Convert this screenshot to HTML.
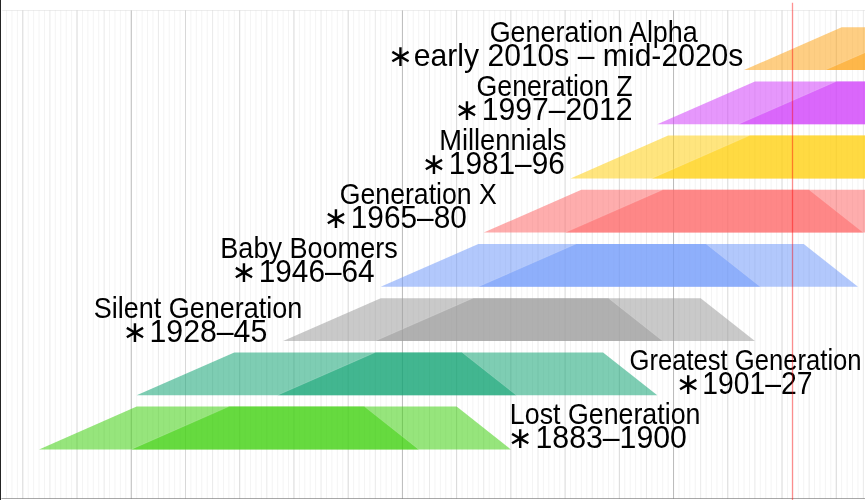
<!DOCTYPE html>
<html lang="en">
<head>
<meta charset="utf-8">
<title>Generation timeline</title>
<style>
html,body{margin:0;padding:0;background:#fff;}
body{width:865px;height:500px;overflow:hidden;}
svg{display:block;}
text{font-family:"Liberation Sans","DejaVu Sans",sans-serif;fill:#000;}
.n{font-size:28.7px;}
.y{font-size:31.0px;}
.a{font-size:30.0px;}
</style>
</head>
<body>
<svg width="865" height="500" viewBox="0 0 865 500">
<rect x="0" y="0" width="865" height="500" fill="#ffffff"/>

<g stroke="#000" stroke-width="1" fill="none">
<line x1="6.53" y1="10.5" x2="6.53" y2="498.5" stroke-opacity="0.048"/>
<line x1="11.95" y1="10.5" x2="11.95" y2="498.5" stroke-opacity="0.048"/>
<line x1="17.38" y1="10.5" x2="17.38" y2="498.5" stroke-opacity="0.048"/>
<line x1="22.80" y1="10.5" x2="22.80" y2="498.5" stroke-opacity="0.155"/>
<line x1="28.22" y1="10.5" x2="28.22" y2="498.5" stroke-opacity="0.048"/>
<line x1="33.65" y1="10.5" x2="33.65" y2="498.5" stroke-opacity="0.048"/>
<line x1="39.07" y1="10.5" x2="39.07" y2="498.5" stroke-opacity="0.048"/>
<line x1="44.49" y1="10.5" x2="44.49" y2="498.5" stroke-opacity="0.048"/>
<line x1="49.92" y1="10.5" x2="49.92" y2="498.5" stroke-opacity="0.090"/>
<line x1="55.34" y1="10.5" x2="55.34" y2="498.5" stroke-opacity="0.048"/>
<line x1="60.76" y1="10.5" x2="60.76" y2="498.5" stroke-opacity="0.048"/>
<line x1="66.18" y1="10.5" x2="66.18" y2="498.5" stroke-opacity="0.048"/>
<line x1="71.61" y1="10.5" x2="71.61" y2="498.5" stroke-opacity="0.048"/>
<line x1="77.03" y1="10.5" x2="77.03" y2="498.5" stroke-opacity="0.155"/>
<line x1="82.45" y1="10.5" x2="82.45" y2="498.5" stroke-opacity="0.048"/>
<line x1="87.88" y1="10.5" x2="87.88" y2="498.5" stroke-opacity="0.048"/>
<line x1="93.30" y1="10.5" x2="93.30" y2="498.5" stroke-opacity="0.048"/>
<line x1="98.72" y1="10.5" x2="98.72" y2="498.5" stroke-opacity="0.048"/>
<line x1="104.14" y1="10.5" x2="104.14" y2="498.5" stroke-opacity="0.090"/>
<line x1="109.57" y1="10.5" x2="109.57" y2="498.5" stroke-opacity="0.048"/>
<line x1="114.99" y1="10.5" x2="114.99" y2="498.5" stroke-opacity="0.048"/>
<line x1="120.41" y1="10.5" x2="120.41" y2="498.5" stroke-opacity="0.048"/>
<line x1="125.84" y1="10.5" x2="125.84" y2="498.5" stroke-opacity="0.048"/>
<line x1="131.26" y1="10.5" x2="131.26" y2="498.5" stroke-opacity="0.280"/>
<line x1="136.68" y1="10.5" x2="136.68" y2="498.5" stroke-opacity="0.048"/>
<line x1="142.11" y1="10.5" x2="142.11" y2="498.5" stroke-opacity="0.048"/>
<line x1="147.53" y1="10.5" x2="147.53" y2="498.5" stroke-opacity="0.048"/>
<line x1="152.95" y1="10.5" x2="152.95" y2="498.5" stroke-opacity="0.048"/>
<line x1="158.38" y1="10.5" x2="158.38" y2="498.5" stroke-opacity="0.090"/>
<line x1="163.80" y1="10.5" x2="163.80" y2="498.5" stroke-opacity="0.048"/>
<line x1="169.22" y1="10.5" x2="169.22" y2="498.5" stroke-opacity="0.048"/>
<line x1="174.64" y1="10.5" x2="174.64" y2="498.5" stroke-opacity="0.048"/>
<line x1="180.07" y1="10.5" x2="180.07" y2="498.5" stroke-opacity="0.048"/>
<line x1="185.49" y1="10.5" x2="185.49" y2="498.5" stroke-opacity="0.155"/>
<line x1="190.91" y1="10.5" x2="190.91" y2="498.5" stroke-opacity="0.048"/>
<line x1="196.34" y1="10.5" x2="196.34" y2="498.5" stroke-opacity="0.048"/>
<line x1="201.76" y1="10.5" x2="201.76" y2="498.5" stroke-opacity="0.048"/>
<line x1="207.18" y1="10.5" x2="207.18" y2="498.5" stroke-opacity="0.048"/>
<line x1="212.61" y1="10.5" x2="212.61" y2="498.5" stroke-opacity="0.090"/>
<line x1="218.03" y1="10.5" x2="218.03" y2="498.5" stroke-opacity="0.048"/>
<line x1="223.45" y1="10.5" x2="223.45" y2="498.5" stroke-opacity="0.048"/>
<line x1="228.87" y1="10.5" x2="228.87" y2="498.5" stroke-opacity="0.048"/>
<line x1="234.30" y1="10.5" x2="234.30" y2="498.5" stroke-opacity="0.048"/>
<line x1="239.72" y1="10.5" x2="239.72" y2="498.5" stroke-opacity="0.155"/>
<line x1="245.14" y1="10.5" x2="245.14" y2="498.5" stroke-opacity="0.048"/>
<line x1="250.57" y1="10.5" x2="250.57" y2="498.5" stroke-opacity="0.048"/>
<line x1="255.99" y1="10.5" x2="255.99" y2="498.5" stroke-opacity="0.048"/>
<line x1="261.41" y1="10.5" x2="261.41" y2="498.5" stroke-opacity="0.048"/>
<line x1="266.83" y1="10.5" x2="266.83" y2="498.5" stroke-opacity="0.090"/>
<line x1="272.26" y1="10.5" x2="272.26" y2="498.5" stroke-opacity="0.048"/>
<line x1="277.68" y1="10.5" x2="277.68" y2="498.5" stroke-opacity="0.048"/>
<line x1="283.10" y1="10.5" x2="283.10" y2="498.5" stroke-opacity="0.048"/>
<line x1="288.53" y1="10.5" x2="288.53" y2="498.5" stroke-opacity="0.048"/>
<line x1="293.95" y1="10.5" x2="293.95" y2="498.5" stroke-opacity="0.155"/>
<line x1="299.37" y1="10.5" x2="299.37" y2="498.5" stroke-opacity="0.048"/>
<line x1="304.80" y1="10.5" x2="304.80" y2="498.5" stroke-opacity="0.048"/>
<line x1="310.22" y1="10.5" x2="310.22" y2="498.5" stroke-opacity="0.048"/>
<line x1="315.64" y1="10.5" x2="315.64" y2="498.5" stroke-opacity="0.048"/>
<line x1="321.06" y1="10.5" x2="321.06" y2="498.5" stroke-opacity="0.090"/>
<line x1="326.49" y1="10.5" x2="326.49" y2="498.5" stroke-opacity="0.048"/>
<line x1="331.91" y1="10.5" x2="331.91" y2="498.5" stroke-opacity="0.048"/>
<line x1="337.33" y1="10.5" x2="337.33" y2="498.5" stroke-opacity="0.048"/>
<line x1="342.76" y1="10.5" x2="342.76" y2="498.5" stroke-opacity="0.048"/>
<line x1="348.18" y1="10.5" x2="348.18" y2="498.5" stroke-opacity="0.155"/>
<line x1="353.60" y1="10.5" x2="353.60" y2="498.5" stroke-opacity="0.048"/>
<line x1="359.03" y1="10.5" x2="359.03" y2="498.5" stroke-opacity="0.048"/>
<line x1="364.45" y1="10.5" x2="364.45" y2="498.5" stroke-opacity="0.048"/>
<line x1="369.87" y1="10.5" x2="369.87" y2="498.5" stroke-opacity="0.048"/>
<line x1="375.30" y1="10.5" x2="375.30" y2="498.5" stroke-opacity="0.090"/>
<line x1="380.72" y1="10.5" x2="380.72" y2="498.5" stroke-opacity="0.048"/>
<line x1="386.14" y1="10.5" x2="386.14" y2="498.5" stroke-opacity="0.048"/>
<line x1="391.56" y1="10.5" x2="391.56" y2="498.5" stroke-opacity="0.048"/>
<line x1="396.99" y1="10.5" x2="396.99" y2="498.5" stroke-opacity="0.048"/>
<line x1="402.41" y1="10.5" x2="402.41" y2="498.5" stroke-opacity="0.280"/>
<line x1="407.83" y1="10.5" x2="407.83" y2="498.5" stroke-opacity="0.048"/>
<line x1="413.26" y1="10.5" x2="413.26" y2="498.5" stroke-opacity="0.048"/>
<line x1="418.68" y1="10.5" x2="418.68" y2="498.5" stroke-opacity="0.048"/>
<line x1="424.10" y1="10.5" x2="424.10" y2="498.5" stroke-opacity="0.048"/>
<line x1="429.53" y1="10.5" x2="429.53" y2="498.5" stroke-opacity="0.090"/>
<line x1="434.95" y1="10.5" x2="434.95" y2="498.5" stroke-opacity="0.048"/>
<line x1="440.37" y1="10.5" x2="440.37" y2="498.5" stroke-opacity="0.048"/>
<line x1="445.79" y1="10.5" x2="445.79" y2="498.5" stroke-opacity="0.048"/>
<line x1="451.22" y1="10.5" x2="451.22" y2="498.5" stroke-opacity="0.048"/>
<line x1="456.64" y1="10.5" x2="456.64" y2="498.5" stroke-opacity="0.155"/>
<line x1="462.06" y1="10.5" x2="462.06" y2="498.5" stroke-opacity="0.048"/>
<line x1="467.49" y1="10.5" x2="467.49" y2="498.5" stroke-opacity="0.048"/>
<line x1="472.91" y1="10.5" x2="472.91" y2="498.5" stroke-opacity="0.048"/>
<line x1="478.33" y1="10.5" x2="478.33" y2="498.5" stroke-opacity="0.048"/>
<line x1="483.75" y1="10.5" x2="483.75" y2="498.5" stroke-opacity="0.090"/>
<line x1="489.18" y1="10.5" x2="489.18" y2="498.5" stroke-opacity="0.048"/>
<line x1="494.60" y1="10.5" x2="494.60" y2="498.5" stroke-opacity="0.048"/>
<line x1="500.02" y1="10.5" x2="500.02" y2="498.5" stroke-opacity="0.048"/>
<line x1="505.45" y1="10.5" x2="505.45" y2="498.5" stroke-opacity="0.048"/>
<line x1="510.87" y1="10.5" x2="510.87" y2="498.5" stroke-opacity="0.155"/>
<line x1="516.29" y1="10.5" x2="516.29" y2="498.5" stroke-opacity="0.048"/>
<line x1="521.72" y1="10.5" x2="521.72" y2="498.5" stroke-opacity="0.048"/>
<line x1="527.14" y1="10.5" x2="527.14" y2="498.5" stroke-opacity="0.048"/>
<line x1="532.56" y1="10.5" x2="532.56" y2="498.5" stroke-opacity="0.048"/>
<line x1="537.99" y1="10.5" x2="537.99" y2="498.5" stroke-opacity="0.090"/>
<line x1="543.41" y1="10.5" x2="543.41" y2="498.5" stroke-opacity="0.048"/>
<line x1="548.83" y1="10.5" x2="548.83" y2="498.5" stroke-opacity="0.048"/>
<line x1="554.25" y1="10.5" x2="554.25" y2="498.5" stroke-opacity="0.048"/>
<line x1="559.68" y1="10.5" x2="559.68" y2="498.5" stroke-opacity="0.048"/>
<line x1="565.10" y1="10.5" x2="565.10" y2="498.5" stroke-opacity="0.155"/>
<line x1="570.52" y1="10.5" x2="570.52" y2="498.5" stroke-opacity="0.048"/>
<line x1="575.95" y1="10.5" x2="575.95" y2="498.5" stroke-opacity="0.048"/>
<line x1="581.37" y1="10.5" x2="581.37" y2="498.5" stroke-opacity="0.048"/>
<line x1="586.79" y1="10.5" x2="586.79" y2="498.5" stroke-opacity="0.048"/>
<line x1="592.21" y1="10.5" x2="592.21" y2="498.5" stroke-opacity="0.090"/>
<line x1="597.64" y1="10.5" x2="597.64" y2="498.5" stroke-opacity="0.048"/>
<line x1="603.06" y1="10.5" x2="603.06" y2="498.5" stroke-opacity="0.048"/>
<line x1="608.48" y1="10.5" x2="608.48" y2="498.5" stroke-opacity="0.048"/>
<line x1="613.91" y1="10.5" x2="613.91" y2="498.5" stroke-opacity="0.048"/>
<line x1="619.33" y1="10.5" x2="619.33" y2="498.5" stroke-opacity="0.155"/>
<line x1="624.75" y1="10.5" x2="624.75" y2="498.5" stroke-opacity="0.048"/>
<line x1="630.18" y1="10.5" x2="630.18" y2="498.5" stroke-opacity="0.048"/>
<line x1="635.60" y1="10.5" x2="635.60" y2="498.5" stroke-opacity="0.048"/>
<line x1="641.02" y1="10.5" x2="641.02" y2="498.5" stroke-opacity="0.048"/>
<line x1="646.44" y1="10.5" x2="646.44" y2="498.5" stroke-opacity="0.090"/>
<line x1="651.87" y1="10.5" x2="651.87" y2="498.5" stroke-opacity="0.048"/>
<line x1="657.29" y1="10.5" x2="657.29" y2="498.5" stroke-opacity="0.048"/>
<line x1="662.71" y1="10.5" x2="662.71" y2="498.5" stroke-opacity="0.048"/>
<line x1="668.14" y1="10.5" x2="668.14" y2="498.5" stroke-opacity="0.048"/>
<line x1="673.56" y1="10.5" x2="673.56" y2="498.5" stroke-opacity="0.280"/>
<line x1="678.98" y1="10.5" x2="678.98" y2="498.5" stroke-opacity="0.048"/>
<line x1="684.41" y1="10.5" x2="684.41" y2="498.5" stroke-opacity="0.048"/>
<line x1="689.83" y1="10.5" x2="689.83" y2="498.5" stroke-opacity="0.048"/>
<line x1="695.25" y1="10.5" x2="695.25" y2="498.5" stroke-opacity="0.048"/>
<line x1="700.67" y1="10.5" x2="700.67" y2="498.5" stroke-opacity="0.090"/>
<line x1="706.10" y1="10.5" x2="706.10" y2="498.5" stroke-opacity="0.048"/>
<line x1="711.52" y1="10.5" x2="711.52" y2="498.5" stroke-opacity="0.048"/>
<line x1="716.94" y1="10.5" x2="716.94" y2="498.5" stroke-opacity="0.048"/>
<line x1="722.37" y1="10.5" x2="722.37" y2="498.5" stroke-opacity="0.048"/>
<line x1="727.79" y1="10.5" x2="727.79" y2="498.5" stroke-opacity="0.155"/>
<line x1="733.21" y1="10.5" x2="733.21" y2="498.5" stroke-opacity="0.048"/>
<line x1="738.64" y1="10.5" x2="738.64" y2="498.5" stroke-opacity="0.048"/>
<line x1="744.06" y1="10.5" x2="744.06" y2="498.5" stroke-opacity="0.048"/>
<line x1="749.48" y1="10.5" x2="749.48" y2="498.5" stroke-opacity="0.048"/>
<line x1="754.90" y1="10.5" x2="754.90" y2="498.5" stroke-opacity="0.090"/>
<line x1="760.33" y1="10.5" x2="760.33" y2="498.5" stroke-opacity="0.048"/>
<line x1="765.75" y1="10.5" x2="765.75" y2="498.5" stroke-opacity="0.048"/>
<line x1="771.17" y1="10.5" x2="771.17" y2="498.5" stroke-opacity="0.048"/>
<line x1="776.60" y1="10.5" x2="776.60" y2="498.5" stroke-opacity="0.048"/>
<line x1="782.02" y1="10.5" x2="782.02" y2="498.5" stroke-opacity="0.155"/>
<line x1="787.44" y1="10.5" x2="787.44" y2="498.5" stroke-opacity="0.048"/>
<line x1="792.87" y1="10.5" x2="792.87" y2="498.5" stroke-opacity="0.048"/>
<line x1="798.29" y1="10.5" x2="798.29" y2="498.5" stroke-opacity="0.048"/>
<line x1="803.71" y1="10.5" x2="803.71" y2="498.5" stroke-opacity="0.048"/>
<line x1="809.13" y1="10.5" x2="809.13" y2="498.5" stroke-opacity="0.090"/>
<line x1="814.56" y1="10.5" x2="814.56" y2="498.5" stroke-opacity="0.048"/>
<line x1="819.98" y1="10.5" x2="819.98" y2="498.5" stroke-opacity="0.048"/>
<line x1="825.40" y1="10.5" x2="825.40" y2="498.5" stroke-opacity="0.048"/>
<line x1="830.83" y1="10.5" x2="830.83" y2="498.5" stroke-opacity="0.048"/>
<line x1="836.25" y1="10.5" x2="836.25" y2="498.5" stroke-opacity="0.155"/>
<line x1="841.67" y1="10.5" x2="841.67" y2="498.5" stroke-opacity="0.048"/>
<line x1="847.10" y1="10.5" x2="847.10" y2="498.5" stroke-opacity="0.048"/>
<line x1="852.52" y1="10.5" x2="852.52" y2="498.5" stroke-opacity="0.048"/>
<line x1="857.94" y1="10.5" x2="857.94" y2="498.5" stroke-opacity="0.048"/>
<line x1="863.37" y1="10.5" x2="863.37" y2="498.5" stroke-opacity="0.090"/>
<line x1="2.2" y1="10.5" x2="865" y2="10.5" stroke-opacity="0.07"/>
<line x1="1.4" y1="498.5" x2="865" y2="498.5" stroke-opacity="0.34" stroke-width="1.15"/>
</g>
<g>
<polygon points="744.06,70.00 841.67,27.20 1150.78,27.20 1205.01,70.00" fill="rgb(253,166,30)" fill-opacity="0.55"/>
<polygon points="825.40,70.00 923.02,27.20 1069.44,27.20 1123.67,70.00" fill="rgb(253,166,30)" fill-opacity="0.56"/>
<line x1="825.40" y1="70.00" x2="923.02" y2="27.20" stroke="#fff" stroke-opacity="0.14" stroke-width="1"/>
<line x1="1069.44" y1="27.20" x2="1123.67" y2="70.00" stroke="#fff" stroke-opacity="0.14" stroke-width="1"/>
<polygon points="657.29,124.20 754.90,81.40 1064.02,81.40 1118.25,124.20" fill="rgb(209,66,250)" fill-opacity="0.55"/>
<polygon points="738.64,124.20 836.25,81.40 982.67,81.40 1036.90,124.20" fill="rgb(209,66,250)" fill-opacity="0.56"/>
<line x1="738.64" y1="124.20" x2="836.25" y2="81.40" stroke="#fff" stroke-opacity="0.14" stroke-width="1"/>
<line x1="982.67" y1="81.40" x2="1036.90" y2="124.20" stroke="#fff" stroke-opacity="0.14" stroke-width="1"/>
<polygon points="570.52,178.40 668.14,135.60 977.25,135.60 1031.48,178.40" fill="rgb(255,208,20)" fill-opacity="0.55"/>
<polygon points="651.87,178.40 749.48,135.60 895.90,135.60 950.13,178.40" fill="rgb(255,208,20)" fill-opacity="0.56"/>
<line x1="651.87" y1="178.40" x2="749.48" y2="135.60" stroke="#fff" stroke-opacity="0.14" stroke-width="1"/>
<line x1="895.90" y1="135.60" x2="950.13" y2="178.40" stroke="#fff" stroke-opacity="0.14" stroke-width="1"/>
<polygon points="483.75,232.60 581.37,189.80 890.48,189.80 944.71,232.60" fill="rgb(254,106,106)" fill-opacity="0.55"/>
<polygon points="565.10,232.60 662.71,189.80 809.13,189.80 863.37,232.60" fill="rgb(254,106,106)" fill-opacity="0.56"/>
<line x1="565.10" y1="232.60" x2="662.71" y2="189.80" stroke="#fff" stroke-opacity="0.14" stroke-width="1"/>
<line x1="809.13" y1="189.80" x2="863.37" y2="232.60" stroke="#fff" stroke-opacity="0.14" stroke-width="1"/>
<polygon points="380.72,286.80 478.33,244.00 803.71,244.00 857.94,286.80" fill="rgb(114,155,250)" fill-opacity="0.55"/>
<polygon points="478.33,286.80 575.95,244.00 706.10,244.00 760.33,286.80" fill="rgb(114,155,250)" fill-opacity="0.56"/>
<line x1="478.33" y1="286.80" x2="575.95" y2="244.00" stroke="#fff" stroke-opacity="0.14" stroke-width="1"/>
<line x1="706.10" y1="244.00" x2="760.33" y2="286.80" stroke="#fff" stroke-opacity="0.14" stroke-width="1"/>
<polygon points="283.10,341.00 380.72,298.20 700.67,298.20 754.90,341.00" fill="rgb(157,157,157)" fill-opacity="0.55"/>
<polygon points="375.30,341.00 472.91,298.20 608.48,298.20 662.71,341.00" fill="rgb(157,157,157)" fill-opacity="0.56"/>
<line x1="375.30" y1="341.00" x2="472.91" y2="298.20" stroke="#fff" stroke-opacity="0.14" stroke-width="1"/>
<line x1="608.48" y1="298.20" x2="662.71" y2="341.00" stroke="#fff" stroke-opacity="0.14" stroke-width="1"/>
<polygon points="136.68,395.20 234.30,352.40 603.06,352.40 657.29,395.20" fill="rgb(20,164,116)" fill-opacity="0.55"/>
<polygon points="277.68,395.20 375.30,352.40 462.06,352.40 516.29,395.20" fill="rgb(20,164,116)" fill-opacity="0.56"/>
<line x1="277.68" y1="395.20" x2="375.30" y2="352.40" stroke="#fff" stroke-opacity="0.14" stroke-width="1"/>
<line x1="462.06" y1="352.40" x2="516.29" y2="395.20" stroke="#fff" stroke-opacity="0.14" stroke-width="1"/>
<polygon points="39.07,449.40 136.68,406.60 456.64,406.60 510.87,449.40" fill="rgb(64,208,16)" fill-opacity="0.55"/>
<polygon points="131.26,449.40 228.87,406.60 364.45,406.60 418.68,449.40" fill="rgb(64,208,16)" fill-opacity="0.56"/>
<line x1="131.26" y1="449.40" x2="228.87" y2="406.60" stroke="#fff" stroke-opacity="0.14" stroke-width="1"/>
<line x1="364.45" y1="406.60" x2="418.68" y2="449.40" stroke="#fff" stroke-opacity="0.14" stroke-width="1"/>
</g>
<g id="labels">
<text class="n" transform="translate(489.65,41.80) scale(0.9387,1)">Generation Alpha</text>
<text class="n" transform="translate(476.46,95.95) scale(0.9322,1)">Generation Z</text>
<text class="n" transform="translate(439.22,149.80) scale(0.9503,1)">Millennials</text>
<text class="n" transform="translate(339.77,203.80) scale(0.9292,1)">Generation X</text>
<text class="n" transform="translate(220.33,257.85) scale(0.9430,1)">Baby Boomers</text>
<text class="n" transform="translate(93.75,317.80) scale(0.9410,1)">Silent Generation</text>
<text class="n" transform="translate(629.52,369.60) scale(0.8931,1)">Greatest Generation</text>
<text class="n" transform="translate(509.86,423.90) scale(0.9335,1)">Lost Generation</text>
<text class="a" transform="translate(387.70,65.75)">∗</text>
<text class="y" transform="translate(413.80,66.10) scale(0.9713,1)">early 2010s – mid-2020s</text>
<text class="a" transform="translate(454.30,119.90)">∗</text>
<text class="y" transform="translate(481.69,120.25) scale(0.9724,1)">1997–2012</text>
<text class="a" transform="translate(421.20,173.75)">∗</text>
<text class="y" transform="translate(448.81,174.10) scale(0.9618,1)">1981–96</text>
<text class="a" transform="translate(323.30,227.75)">∗</text>
<text class="y" transform="translate(350.71,228.10) scale(0.9626,1)">1965–80</text>
<text class="a" transform="translate(231.30,281.80)">∗</text>
<text class="y" transform="translate(258.71,282.15) scale(0.9610,1)">1946–64</text>
<text class="a" transform="translate(122.30,341.75)">∗</text>
<text class="y" transform="translate(149.48,342.10) scale(0.9763,1)">1928–45</text>
<text class="a" transform="translate(675.40,393.55)">∗</text>
<text class="y" transform="translate(702.22,393.90) scale(0.9140,1)">1901–27</text>
<text class="a" transform="translate(507.60,447.85)">∗</text>
<text class="y" transform="translate(535.48,448.20) scale(0.9763,1)">1883–1900</text>
</g>
<line x1="792.5" y1="2.8" x2="792.5" y2="500" stroke="#ff0000" stroke-opacity="0.43" stroke-width="1.3"/>
<rect x="0" y="0" width="1" height="500" fill="#242424"/>
</svg>
</body>
</html>
